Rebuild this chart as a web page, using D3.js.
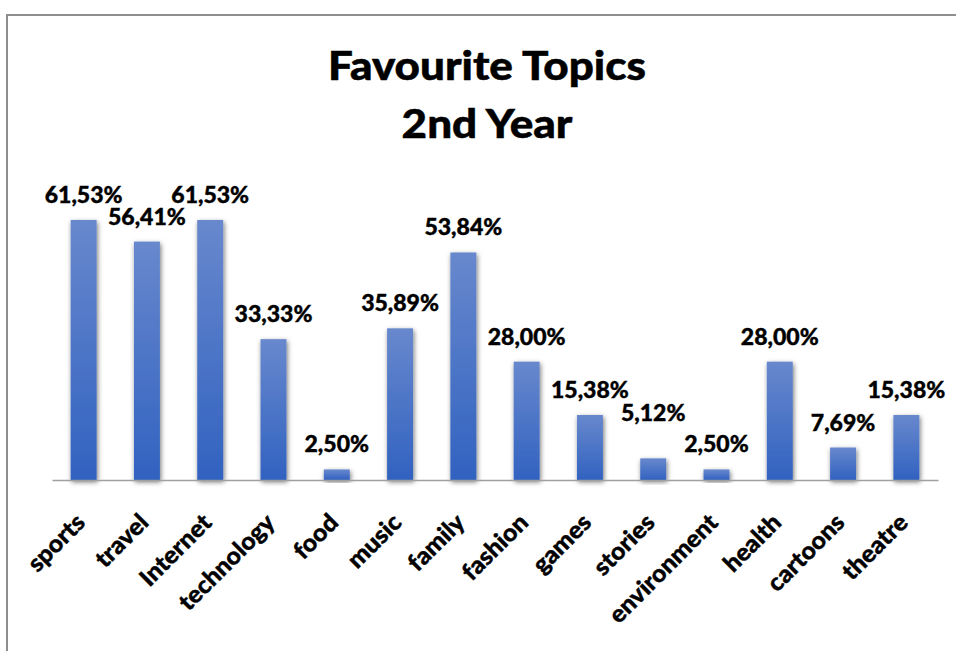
<!DOCTYPE html>
<html>
<head>
<meta charset="utf-8">
<script src="https://cdn.jsdelivr.net/npm/d3@7"></script>
<style>
  html, body { margin: 0; padding: 0; background: #fff; }
  svg { display: block; }
  text { font-family: Lato, "Open Sans", sans-serif; font-weight: 900; fill: #000; }
</style>
</head>
<body>
<svg id="chart" width="956" height="651"></svg>
<script>
// Topics and the share of students who picked each one (%)
const topics = ["sports", "travel", "Internet", "technology", "food", "music", "family",
                "fashion", "games", "stories", "environment", "health", "cartoons", "theatre"];
const shares = [61.53, 56.41, 61.53, 33.33, 2.50, 35.89, 53.84,
                28.00, 15.38, 5.12, 2.50, 28.00, 7.69, 15.38];
const titleLines = ["Favourite Topics", "2nd Year"];
const yMax = 70;

// extra lift (px) for labels that would otherwise collide with a neighbour
const labelLift = { stories: 20 };

const W = 956, H = 651;
const svg = d3.select("#chart");

// chart frame
svg.append("rect")
  .attr("x", 7).attr("y", 15)
  .attr("width", W + 10).attr("height", H + 10)
  .attr("fill", "#fff")
  .attr("stroke", "#8e8e8e").attr("stroke-width", 2);

const defs = svg.append("defs");
const grad = defs.append("linearGradient")
  .attr("id", "barGrad").attr("x1", 0).attr("y1", 0).attr("x2", 0).attr("y2", 1);
grad.append("stop").attr("offset", "0%").attr("stop-color", "#6888cd");
grad.append("stop").attr("offset", "100%").attr("stop-color", "#3162c0");

const shadow = defs.append("filter").attr("id", "barShadow")
  .attr("x", "-60%").attr("y", "-20%").attr("width", "220%").attr("height", "140%");
shadow.append("feDropShadow")
  .attr("dx", 1).attr("dy", 2).attr("stdDeviation", 2.6)
  .attr("flood-color", "#000").attr("flood-opacity", 0.55);

const plot = { left: 52, right: 938, base: 480 };

const x = d3.scaleBand()
  .domain(topics)
  .range([plot.left, plot.right])
  .paddingInner(0.59)
  .paddingOuter(0.295);

const y = d3.scaleLinear()
  .domain([0, yMax])
  .range([plot.base, plot.base - yMax * 4.226]);

// title
svg.append("g")
  .selectAll("text")
  .data(titleLines)
  .join("text")
  .attr("transform", (d, i) => `translate(487,${80 + i * 58}) scale(1.1,1)`)
  .attr("text-anchor", "middle")
  .style("font-size", "40px")
  .attr("stroke", "#000").attr("stroke-width", 0.5)
  .text(d => d);

// bars
svg.append("g")
  .selectAll("rect")
  .data(topics)
  .join("rect")
  .attr("x", d => x(d))
  .attr("y", (d, i) => y(shares[i]))
  .attr("width", x.bandwidth())
  .attr("height", (d, i) => y(0) - y(shares[i]))
  .attr("fill", "url(#barGrad)")
  .attr("filter", "url(#barShadow)");

// category axis
const xAxis = d3.axisBottom(x).tickSize(0).tickPadding(0);
const gx = svg.append("g")
  .attr("transform", `translate(0,${plot.base})`)
  .call(xAxis);
gx.select(".domain").attr("stroke", "#a0a0a0").attr("stroke-width", 1.5);
gx.selectAll(".tick text")
  .attr("text-anchor", "end")
  .attr("dy", 0)
  .attr("y", 0)
  .attr("transform", "translate(3,44) rotate(-45) scale(1.04,1)")
  .style("font-size", "24px")
  .style("font-family", "Lato, 'Open Sans', sans-serif")
  .style("font-weight", 900)
  .attr("stroke", "#000").attr("stroke-width", 0.4)
  .attr("fill", "#000");

// value labels
const fmt = v => v.toFixed(2).replace(".", ",") + "%";
svg.append("g")
  .selectAll("text")
  .data(topics)
  .join("text")
  .attr("x", d => x(d) + x.bandwidth() / 2)
  .attr("y", (d, i) => y(shares[i]) - 17 - (labelLift[d] || 0))
  .attr("text-anchor", "middle")
  .style("font-size", "23px")
  .attr("stroke", "#000").attr("stroke-width", 0.4)
  .text((d, i) => fmt(shares[i]));
</script>
</body>
</html>
